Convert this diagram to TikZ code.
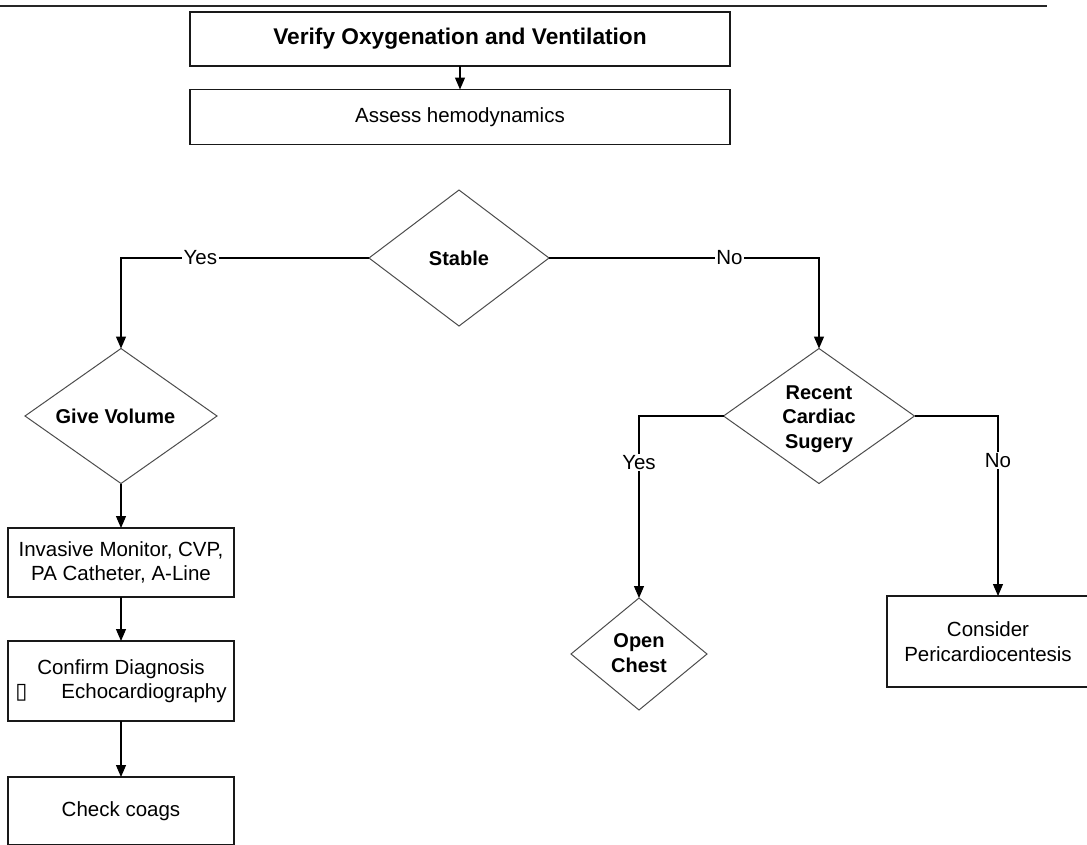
\documentclass[tikz,border=0pt]{standalone}
\usepackage{fontspec}
\setmainfont{Liberation Sans}
\newfontfamily\symfont{DejaVu Sans}
\usetikzlibrary{shapes.geometric,arrows.meta}
\begin{document}
\begin{tikzpicture}[x=1pt,y=-1pt,
  font=\fontsize{20.5}{24.5}\selectfont,
  box/.style={draw=black!90,line width=1.3pt,rectangle,inner sep=0pt,outer sep=0pt,align=center},
  dia/.style={draw=black!70,line width=1pt,diamond,inner sep=0pt,outer sep=0pt},
  dtext/.style={align=center,inner sep=0pt,font=\fontsize{20}{24.5}\selectfont\bfseries},
  conn/.style={draw=black,line width=1.2pt},
  arr/.style={conn,-{Triangle[width=10pt,length=12pt]}},
  lbl/.style={fill=white,inner sep=1.5pt}]
\useasboundingbox (0,0) rectangle (1087,844);
\clip (0,0) rectangle (1087,844);
\coordinate (tl0) at (0,6);
\coordinate (tl1) at (1047,6);
\draw[line width=2.5pt,black!85] (tl0) -- (tl1);
% top boxes
\node[box,minimum width=540pt,minimum height=54pt,font=\fontsize{22.7}{26}\selectfont\bfseries] (verify) at (460,39) {Verify Oxygenation and Ventilation};
\node[box,minimum width=540pt,minimum height=55pt] (assess) at (460,117) {\raisebox{-1.5pt}{Assess hemodynamics}};
% diamonds
\node[dia,minimum width=180pt,minimum height=136pt,label={[dtext,name=stablet]center:Stable}] (stable) at (459,258) {};
\node[dia,minimum width=192pt,minimum height=135pt,label={[dtext,name=givet,xshift=-5.5pt]center:Give Volume}] (give) at (121,416) {};
\node[dia,minimum width=191pt,minimum height=135pt,label={[dtext,name=recentt,yshift=-3pt]center:Recent\\Cardiac\\Sugery}] (recent) at (819,416) {};
\node[dia,minimum width=136pt,minimum height=112pt,label={[dtext,name=opent,yshift=1pt]center:Open\\Chest}] (open) at (639,654) {};
% left column boxes
\node[box,minimum width=226pt,minimum height=69pt] (invasive) at (121,562.5) {Invasive Monitor, CVP,\\PA Catheter, A-Line};
\node[box,minimum width=226pt,minimum height=80pt] (confirm) at (121,681) {Confirm Diagnosis\\{\symfont\fontsize{22}{24}\selectfont ▯}\hspace{34pt}Echocardiography};
\node[box,minimum width=226pt,minimum height=68pt] (coags) at (121,811) {Check coags};
% right box
\node[box,minimum width=222pt,minimum height=91pt] (consider) at (998,641.5) {Consider\hspace{20pt}\null\\Pericardiocentesis\hspace{20pt}\null};
% connectors
\draw[arr] (verify) -- (assess);
\draw[arr] (stable.west) -| node[lbl,pos=0.34]{Yes} (give.north);
\draw[arr] (stable.east) -| node[lbl,pos=0.334]{No} (recent.north);
\draw[arr] (give) -- (invasive);
\draw[arr] (invasive) -- (confirm);
\draw[arr] (confirm) -- (coags);
\draw[arr] (recent.west) -| node[lbl,pos=0.628]{Yes} (open.north);
\draw[arr] (recent.east) -| node[lbl,pos=0.623]{No} (consider.north);
\end{tikzpicture}
\end{document}
